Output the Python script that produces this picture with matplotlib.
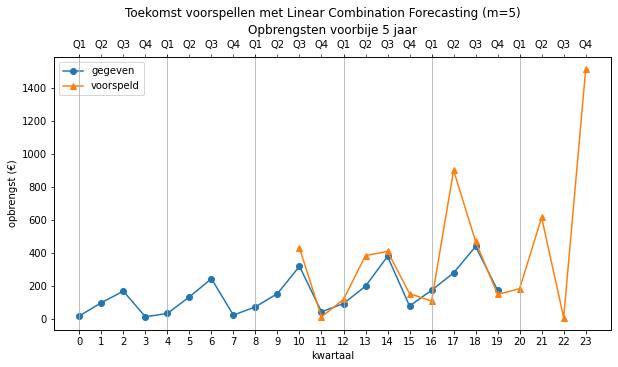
import numpy as np
import matplotlib
matplotlib.use('Agg')
import matplotlib.pyplot as plt

# data
kwartaal = list(range(20))
gegeven = [20, 100, 170, 15, 35, 135, 245, 25, 75, 155,
           320, 45, 95, 200, 380, 80, 175, 280, 440, 175]
kwartaal_vp = list(range(10, 24))
voorspeld = [430, 15, 120, 385, 410, 155, 110, 900, 470, 150,
             185, 615, 10, 1510]
quarters = ['Q1', 'Q2', 'Q3', 'Q4']

fig = plt.figure(figsize=(618 / 72, 367 / 72), dpi=72)
ax = fig.add_axes([54 / 618, 1 - 330 / 367, 557 / 618, 273 / 367])

ax.plot(kwartaal, gegeven, 'o-', label='gegeven')
ax.plot(kwartaal_vp, voorspeld, '^-', label='voorspeld')
ax.set_xticks(range(24))
ax.set_xlabel('kwartaal')
ax.set_ylabel('opbrengst (€)')
ax.legend(loc='upper left')

ax2 = ax.twiny()
ax2.set_xlim(ax.get_xlim())
major = list(range(0, 24, 4))
minor = [i for i in range(24) if i % 4]
ax2.set_xticks(major)
ax2.set_xticklabels([quarters[0]] * len(major))
ax2.set_xticks(minor, minor=True)
ax2.set_xticklabels([quarters[i % 4] for i in minor], minor=True)
ax2.tick_params(which='minor', length=3.5)
ax2.grid(axis='x', which='major')
ax2.set_title('Opbrengsten voorbije 5 jaar')

fig.suptitle('Toekomst voorspellen met Linear Combination Forecasting (m=5)',
             x=0.523, y=1 - 13.5 / 367, va='center')

fig.savefig('out.png', dpi=72)
